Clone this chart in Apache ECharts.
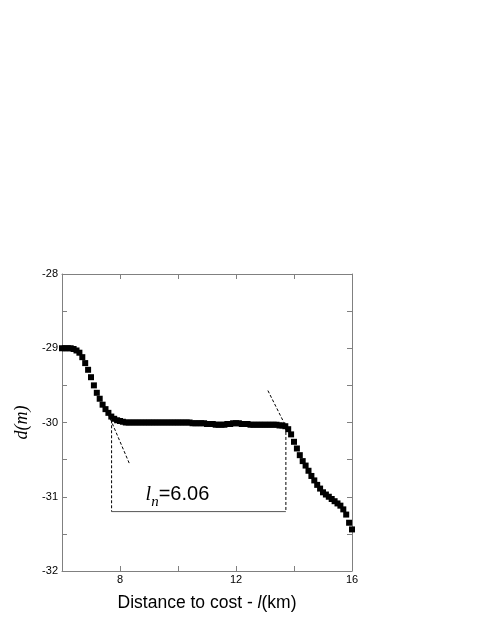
<!DOCTYPE html>
<html>
<head>
<meta charset="utf-8">
<script src="https://cdn.jsdelivr.net/npm/echarts@6/dist/echarts.min.js"></script>
<style>
  html, body { margin: 0; padding: 0; background: #fff; }
  #chart { width: 491px; height: 635px; }
</style>
</head>
<body>
<div id="chart"></div>
<script>
// distance along the profile (km)
const distance = [
  6.0, 6.1, 6.2, 6.3, 6.4, 6.5, 6.6, 6.7, 6.8, 6.9,
  7.0, 7.1, 7.2, 7.3, 7.4, 7.5, 7.6, 7.7, 7.8, 7.9,
  8.0, 8.1, 8.2, 8.3, 8.4, 8.5, 8.6, 8.7, 8.8, 8.9,
  9.0, 9.1, 9.2, 9.3, 9.4, 9.5, 9.6, 9.7, 9.8, 9.9,
  10.0, 10.1, 10.2, 10.3, 10.4, 10.5, 10.6, 10.7, 10.8, 10.9,
  11.0, 11.1, 11.2, 11.3, 11.4, 11.5, 11.6, 11.7, 11.8, 11.9,
  12.0, 12.1, 12.2, 12.3, 12.4, 12.5, 12.6, 12.7, 12.8, 12.9,
  13.0, 13.1, 13.2, 13.3, 13.4, 13.5, 13.6, 13.7, 13.8, 13.9,
  14.0, 14.1, 14.2, 14.3, 14.4, 14.5, 14.6, 14.7, 14.8, 14.9,
  15.0, 15.1, 15.2, 15.3, 15.4, 15.5, 15.6, 15.7, 15.8, 15.9,
  16.0
];

// depth d (m)
const depth = [
  -29.00, -29.00, -29.00, -29.00, -29.01, -29.03, -29.06, -29.12, -29.20, -29.29,
  -29.39, -29.50, -29.60, -29.68, -29.76, -29.82, -29.87, -29.92, -29.95, -29.97,
  -29.98, -29.99, -30.00, -30.00, -30.00, -30.00, -30.00, -30.00, -30.00, -30.00,
  -30.00, -30.00, -30.00, -30.00, -30.00, -30.00, -30.00, -30.00, -30.00, -30.00,
  -30.00, -30.00, -30.00, -30.00, -30.00, -30.01, -30.01, -30.01, -30.01, -30.01,
  -30.02, -30.02, -30.02, -30.03, -30.03, -30.03, -30.03, -30.02, -30.02, -30.01,
  -30.01, -30.01, -30.02, -30.02, -30.02, -30.03, -30.03, -30.03, -30.03, -30.03,
  -30.03, -30.03, -30.03, -30.03, -30.03, -30.04, -30.04, -30.05, -30.09, -30.16,
  -30.26, -30.35, -30.44, -30.52, -30.58, -30.65, -30.72, -30.78, -30.84, -30.89,
  -30.94, -30.97, -31.00, -31.03, -31.06, -31.09, -31.12, -31.17, -31.24, -31.35,
  -31.44
];

const xTickLabels = [8, 12, 16];
const yTickLabels = [-32, -31, -30, -29, -28];

// annotation lines
const tangentLeft = [[7.60, -29.89], [8.32, -30.55]];
const tangentRight = [[13.10, -29.57], [13.78, -30.10]];
const bracketLeft = [[7.71, -29.97], [7.71, -31.20]];
const bracketRight = [[13.72, -30.06], [13.72, -31.20]];
const bracketBase = [[7.71, -31.20], [13.72, -31.20]];
const lnLabelAt = [[9.98, -30.97]];

const axisGray = '#808080';

const chart = echarts.init(document.getElementById('chart'));

const baseAxis = {
  axisLine: { show: true, onZero: false, lineStyle: { color: axisGray, width: 1 } },
  axisTick: { show: true, inside: true, length: 5, lineStyle: { color: axisGray } },
  splitLine: { show: false }
};

const dashed = { color: '#000', width: 1, type: [3, 2] };

chart.setOption({
  backgroundColor: '#fff',
  animation: false,
  grid: { left: 62, right: 139, top: 274, bottom: 64 },
  xAxis: [
    Object.assign({}, baseAxis, {
      type: 'value', min: 6, max: 16, interval: 2, position: 'bottom',
      axisLabel: {
        margin: 3, color: '#000', fontSize: 11, fontFamily: 'Liberation Sans',
        formatter: v => (xTickLabels.includes(v) ? String(v) : '')
      },
      name: '{r|Distance to cost - }{i|l}{r|(km)}',
      nameLocation: 'middle',
      nameGap: 23,
      nameTextStyle: {
        rich: {
          r: { fontSize: 17.5, fontFamily: 'Liberation Sans', color: '#000' },
          i: { fontSize: 17.5, fontFamily: 'Liberation Sans', fontStyle: 'italic', color: '#000' }
        }
      }
    }),
    Object.assign({}, baseAxis, {
      type: 'value', min: 6, max: 16, interval: 2, position: 'top',
      axisLabel: { show: false }
    })
  ],
  yAxis: [
    Object.assign({}, baseAxis, {
      type: 'value', min: -32, max: -28, interval: 0.5, position: 'left',
      axisLabel: {
        margin: 4, color: '#000', fontSize: 11, fontFamily: 'Liberation Sans',
        formatter: v => (yTickLabels.includes(v) ? String(v) : '')
      },
      name: 'd(m)',
      nameLocation: 'middle',
      nameGap: 27,
      nameRotate: 90,
      nameTextStyle: { fontSize: 18, fontFamily: 'Liberation Serif', fontStyle: 'italic', color: '#000' }
    }),
    Object.assign({}, baseAxis, {
      type: 'value', min: -32, max: -28, interval: 0.5, position: 'right',
      axisLabel: { show: false }
    })
  ],
  series: [
    { type: 'line', data: tangentLeft, symbol: 'none', lineStyle: dashed, silent: true, z: 1 },
    { type: 'line', data: tangentRight, symbol: 'none', lineStyle: dashed, silent: true, z: 1 },
    { type: 'line', data: bracketLeft, symbol: 'none', lineStyle: dashed, silent: true, z: 1 },
    { type: 'line', data: bracketRight, symbol: 'none', lineStyle: dashed, silent: true, z: 1 },
    { type: 'line', data: bracketBase, symbol: 'none', lineStyle: { color: '#555', width: 1 }, silent: true, z: 1 },
    {
      type: 'scatter',
      data: distance.map((d, i) => [d, depth[i]]),
      symbol: 'rect',
      symbolSize: 6,
      itemStyle: { color: '#000', opacity: 1 },
      z: 3
    },
    {
      type: 'scatter',
      data: lnLabelAt,
      symbolSize: 0,
      silent: true,
      itemStyle: { opacity: 1 },
      label: {
        show: true,
        position: 'inside',
        opacity: 1,
        formatter: '{i|l}{s|n}{r|=6.06}',
        rich: {
          i: { fontSize: 20, fontFamily: 'Liberation Serif', fontStyle: 'italic', color: '#000', verticalAlign: 'middle' },
          s: { fontSize: 15, fontFamily: 'Liberation Serif', fontStyle: 'italic', color: '#000', padding: [16, 0, 0, 0], verticalAlign: 'bottom' },
          r: { fontSize: 20, fontFamily: 'Liberation Sans', color: '#000', verticalAlign: 'middle' }
        }
      },
      z: 4
    }
  ]
});
</script>
</body>
</html>
